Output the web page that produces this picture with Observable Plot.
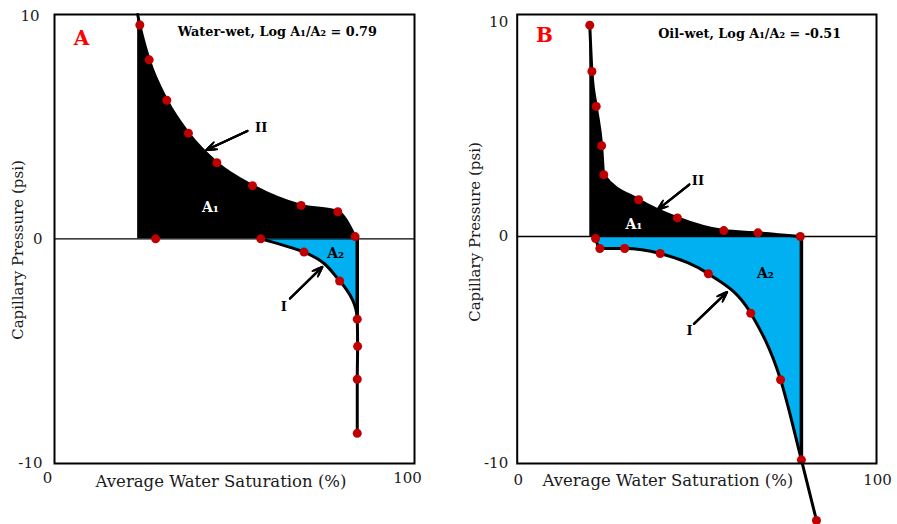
<!DOCTYPE html>
<html><head><meta charset="utf-8">
<script src="https://cdn.jsdelivr.net/npm/d3@7"></script>
<script src="https://cdn.jsdelivr.net/npm/@observablehq/plot@0.6"></script>
<style>
html,body{margin:0;padding:0;background:#fff;}
#wrap{display:flex;width:897px;height:524px;overflow:hidden;}
#wrap svg{overflow:visible;display:block;}
</style></head><body><div id="wrap"></div>
<script>
// ---------- data ----------
const xTicks = [0, 100];
const yTicks = [-10, 0, 10];
const xLabel = "Average Water Saturation (%)";
const yLabel = "Capillary Pressure (psi)";

// Panel A : water-wet
const aLetter = "A";
const aTitle = "Water-wet, Log A\u2081/A\u2082 = 0.79";
const aDrainageTop = [23.1, 10];           // curve II where it leaves the frame top
const aDrainage = [[23.7, 9.53], [26.3, 7.98], [31.2, 6.18], [37.2, 4.71], [45.1, 3.39],
                   [55.0, 2.37], [68.5, 1.49], [78.7, 1.21], [83.5, 0.1]];
const aImbibition = [[28.1, 0], [57.3, 0], [69.3, -0.59], [79.2, -1.88], [84.1, -3.58],
                     [84.2, -4.79], [84.1, -6.26], [84.1, -8.67]];
const aSwMax = 84.1;

// Panel B : oil-wet
const bLetter = "B";
const bTitle = "Oil-wet, Log A\u2081/A\u2082 = -0.51";
const bDrainage = [[20.2, 9.31], [20.8, 7.27], [22.0, 5.73], [23.5, 4.00], [24.1, 2.72],
                   [33.8, 1.62], [44.6, 0.82], [57.5, 0.26], [67.0, 0.16], [78.8, 0]];
const bImbibition = [[21.8, -0.09], [23.0, -0.53], [29.9, -0.53], [39.8, -0.75], [53.2, -1.64],
                     [65.0, -3.38], [73.3, -6.31], [79.1, -9.84], [83.3, -12.51]];
const bSwMax = 79.1;

// ---------- layout / annotations ----------
const RED = "#C00000", BLUE = "#00B0F0", FONT = "DejaVu Serif", INK = "#1a1a1a";

function panel(cfg) {
  const X = d => d[0], Y = d => d[1];
  const upper = cfg.top ? [cfg.top, ...cfg.drainage] : cfg.drainage;
  const start = Math.max(0, cfg.imbibition.findLastIndex(d => d[1] === 0));
  const lower = cfg.imbibition.slice(start);
  const junction = cfg.imbibition.find(d => d[0] >= cfg.swMax);
  const a = cfg.ann;
  const arrowOpts = {x1: d => d[0], y1: d => d[1], x2: d => d[2], y2: d => d[3], stroke: "black", headAngle: 42};
  const topTick = d3.max(yTicks);
  const marks = [
    Plot.areaY(upper, {x: X, y1: 0, y2: Y, curve: "monotone-x", fill: "black"}),
    cfg.lowerCurve === "monotone-y"
      ? Plot.areaX(lower, {y: Y, x1: X, x2: cfg.swMax, curve: "monotone-y", fill: BLUE})
      : Plot.areaY(lower.filter(d => d[0] <= cfg.swMax), {x: X, y1: 0, y2: Y, curve: "monotone-x", fill: BLUE}),
    Plot.ruleY([0], {stroke: "black", strokeWidth: 1.4}),
    Plot.line(upper, {x: X, y: Y, curve: "monotone-x", stroke: "black", strokeWidth: 3}),
    Plot.line(lower, {x: X, y: Y, curve: cfg.lowerCurve, stroke: "black", strokeWidth: 3}),
    Plot.ruleX([junction], {x: X, y1: 0, y2: Y, stroke: "black", strokeWidth: 3.5}),
    Plot.dot([...cfg.drainage, ...cfg.imbibition], {x: X, y: Y, r: 4.5, fill: RED, stroke: "none"}),
    Plot.frame({stroke: "black", strokeWidth: 2}),
    Plot.axisY({ticks: yTicks.filter(t => t < topTick), tickFormat: d => String(d), tickSize: 0, tickPadding: cfg.yPad, label: null, fontSize: 15, fill: INK}),
    Plot.axisY({ticks: yTicks.filter(t => t === topTick), tickFormat: d => String(d), tickSize: 0, tickPadding: cfg.yPad + cfg.topTickDx, label: null, fontSize: 15, fill: INK, dy: cfg.topTickDy}),
    Plot.axisX({ticks: xTicks, tickFormat: d => String(d), tickSize: 0, tickPadding: cfg.xPad, label: null, fontSize: 15, fill: INK, dx: cfg.xdx}),
    Plot.text([xLabel], {frameAnchor: "bottom", text: d => d, textAnchor: "middle", dx: cfg.xLabelDx, dy: cfg.xLabelDy, lineAnchor: "middle", fontSize: 16.5, fill: INK}),
    Plot.text([yLabel], {frameAnchor: "left", text: d => d, textAnchor: "middle", rotate: -90, dx: cfg.yLabelDx, dy: cfg.yLabelDy, lineAnchor: "middle", fontSize: 15, fill: INK}),
    Plot.text([cfg.letter], {x: a.letter[0], y: a.letter[1], text: d => d, fill: "#FF0000", fontWeight: "bold", fontSize: 20}),
    Plot.text([cfg.title], {x: a.title[0], y: a.title[1], text: d => d, fill: "black", fontWeight: "bold", fontSize: 12.8}),
    Plot.text(["A\u2081"], {x: a.A1[0], y: a.A1[1], text: d => d, fill: "white", fontWeight: "bold", fontSize: 14}),
    Plot.text(["A\u2082"], {x: a.A2[0], y: a.A2[1], text: d => d, fill: "black", fontWeight: "bold", fontSize: 14}),
    Plot.text(["II"], {x: a.II[0], y: a.II[1], text: d => d, fill: "black", fontWeight: "bold", fontSize: 13}),
    Plot.text(["I"], {x: a.I[0], y: a.I[1], text: d => d, fill: "black", fontWeight: "bold", fontSize: 13}),
    // filled-looking arrow heads: nested heads of decreasing length
    Plot.arrow([a.arrowII, a.arrowI], {...arrowOpts, strokeWidth: 1.8, headLength: 9}),
    Plot.arrow([a.arrowII, a.arrowI], {...arrowOpts, strokeWidth: 2.2, headLength: 6}),
    Plot.arrow([a.arrowII, a.arrowI], {...arrowOpts, strokeWidth: 2.2, headLength: 3})
  ];
  return Plot.plot({
    width: cfg.width, height: 524,
    marginLeft: cfg.ml, marginRight: cfg.mr, marginTop: 14, marginBottom: 61,
    x: {domain: [0, 100], range: cfg.xRange},
    y: cfg.yScale,
    style: {fontFamily: FONT, background: "white", overflow: "visible"},
    marks
  });
}

const figA = panel({
  width: 448, ml: 54, mr: 34, xRange: [54, 414],
  yScale: {domain: [-10, 10], range: [462.7, 14]},
  drainage: aDrainage, top: aDrainageTop, imbibition: aImbibition, swMax: aSwMax,
  lowerCurve: "monotone-y", letter: aLetter, title: aTitle,
  yPad: 12, topTickDx: 3, topTickDy: 2, xPad: 9, xdx: -7, xLabelDx: -13.5, xLabelDy: 18.5, yLabelDx: -36, yLabelDy: 11,
  ann: {letter: [7.5, 8.92], title: [61.9, 9.23], A1: [43.3, 1.40], A2: [78.1, -0.65],
        II: [57.4, 4.96], I: [63.7, -3.04],
        arrowII: [53.6, 4.81, 42.2, 3.96], arrowI: [65.4, -2.66, 74.4, -1.25]}
});

const figB = panel({
  width: 449, ml: 68.7, mr: 21, xRange: [68.7, 428],
  yScale: {domain: [-10, 10], range: [463, 9]},
  drainage: bDrainage, top: null, imbibition: bImbibition, swMax: bSwMax,
  lowerCurve: "monotone-x", letter: bLetter, title: bTitle,
  yPad: 9, topTickDx: 0, topTickDy: 13, xPad: 11, xdx: 1, xLabelDx: -29, xLabelDy: 17, yLabelDx: -41.7, yLabelDy: -7,
  ann: {letter: [7.6, 8.87], title: [64.7, 8.93], A1: [32.5, 0.53], A2: [69.1, -1.64],
        II: [50.3, 2.47], I: [48.0, -4.17],
        arrowII: [47.9, 2.29, 39.1, 1.18], arrowI: [49.2, -3.85, 58.4, -2.45]}
});

document.getElementById("wrap").append(figA, figB);
</script></body></html>
